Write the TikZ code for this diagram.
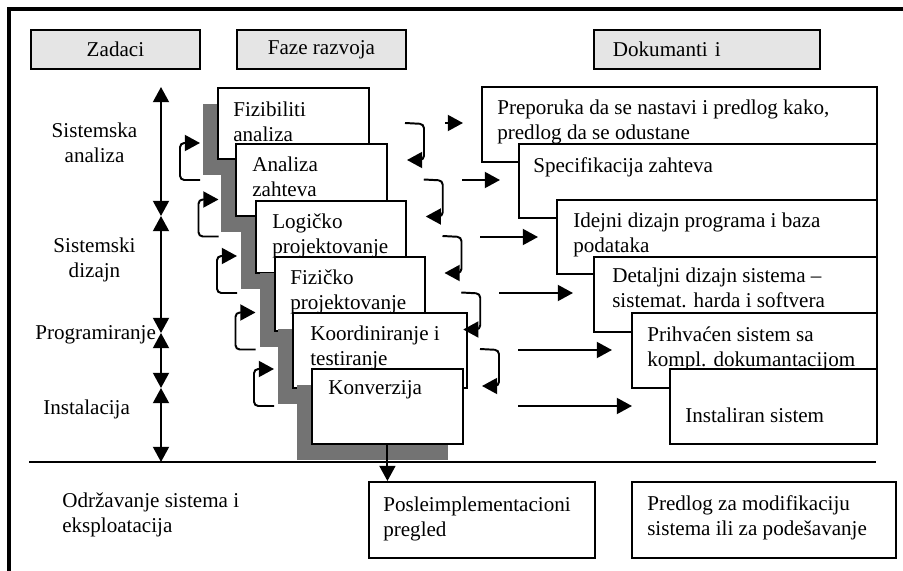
\documentclass[tikz,border=0pt]{standalone}
\usepackage{fontspec}
\setmainfont{Liberation Serif}
\usetikzlibrary{arrows.meta, positioning, shadows}
\tikzset{
  hd/.style = {draw=black, fill=black!10, line width=1.3pt, anchor=north west,
    inner sep=0pt, minimum width=4.225cm, minimum height=0.975cm},
  ph/.style = {draw=black, fill=white, line width=1.3pt, anchor=north west,
    inner sep=0pt, drop shadow={shadow xshift=-3.75mm, shadow yshift=-4mm,
      fill=black!55, opacity=1}},
  dk/.style = {draw=black, fill=white, line width=1.3pt, anchor=north west,
    inner sep=0pt},
  tx/.style = {inner sep=0pt, align=left},
  ar/.style = {-{Triangle[length=3.8mm, width=4mm]}, line width=1.4pt},
  dar/.style = {{Triangle[length=3.8mm, width=4mm]}-{Triangle[length=3.8mm, width=4mm]},
    line width=1.4pt},
  fb/.style = {ar, rounded corners=3pt}
}

\begin{document}
\begin{tikzpicture}[x=0.025cm, y=-0.025cm, font=\fontsize{15}{17.8}\selectfont]
  \useasboundingbox (0,0) rectangle (903,571);
  \draw [line width=2.2pt] (9,571) -- (9,9) -- (903,9);
  \node [hd] (zad) at (30,29) {Zadaci};
  \node [hd] (faz) at (236,29) {Faze razvoja};
  \node [hd, minimum width=5.65cm, text width=4.7cm, inner xsep=0.475cm, align=left] (dok) at (593,29) {Dokumanti i};

  \node [tx, align=center, anchor=north] (sa) at (94.5,123) {Sistemska\\analiza};
  \node [tx, align=center, anchor=north] (sd) at (94.5,238) {Sistemski\\dizajn};
  \node [tx, anchor=north west] (pr) at (35,325) {Programiranje};
  \node [tx, anchor=north west] (in) at (43,400) {Instalacija};
  \node [tx, anchor=north west] (od) at (62,493) {Održavanje sistema i\\eksploatacija};

  \coordinate (v0) at (161,87);
  \coordinate (v1) at (161,216);
  \coordinate (v2) at (161,333);
  \coordinate (v3) at (161,388);
  \coordinate (v4) at (161,462);
  \foreach \a/\b in {v0/v1, v1/v2, v2/v3, v3/v4} \draw [dar] (\a) -- (\b);

  \node [ph, minimum width=3.775cm, minimum height=1.775cm] (p1) at (217,87) {};
  \node [tx, below right=3.6mm and 4mm of p1.north west] (tp1) {Fizibiliti\\analiza};
  \node [ph, minimum width=3.775cm, minimum height=1.8cm] (p2) at (235,143) {};
  \node [tx, below right=3.5mm and 4.25mm of p2.north west] (tp2) {Analiza\\zahteva};
  \node [ph, minimum width=3.75cm, minimum height=1.8cm] (p3) at (255,200) {};
  \node [tx, below right=3.3mm and 4.25mm of p3.north west] (tp3) {Logičko\\projektovanje};
  \node [ph, minimum width=3.75cm, minimum height=1.85cm] (p4) at (274,256) {};
  \node [tx, below right=3.5mm and 4mm of p4.north west] (tp4) {Fizičko\\projektovanje};
  \node [ph, minimum width=4.35cm, minimum height=1.875cm] (p5) at (292,312) {};
  \node [tx, below right=3.3mm and 4.5mm of p5.north west] (tp5) {Koordiniranje i\\testiranje};
  \node [ph, minimum width=3.775cm, minimum height=1.875cm] (p6) at (311,368) {};
  \node [tx, below right=3mm and 4.25mm of p6.north west] (tp6) {Konverzija};

  \node [dk, minimum width=9.875cm, minimum height=1.875cm] (d1) at (481,86) {};
  \node [tx, below right=3.5mm and 4mm of d1.north west] (td1) {Preporuka da se nastavi i predlog kako,\\predlog da se odustane};
  \node [dk, minimum width=8.95cm, minimum height=1.85cm] (d2) at (518,143) {};
  \node [tx, below right=3.5mm and 3.75mm of d2.north west] (td2) {Specifikacija zahteva};
  \node [dk, minimum width=8cm, minimum height=1.85cm] (d3) at (556,199) {};
  \node [tx, below right=3.5mm and 4.25mm of d3.north west] (td3) {Idejni dizajn programa i baza\\podataka};
  \node [dk, minimum width=7.075cm, minimum height=1.875cm] (d4) at (593,256) {};
  \node [tx, below right=3mm and 4.75mm of d4.north west] (td4) {Detaljni dizajn sistema --\\sistemat. harda i softvera};
  \node [dk, minimum width=6.125cm, minimum height=1.875cm] (d5) at (631,312) {};
  \node [tx, below right=3.75mm and 4mm of d5.north west] (td5) {Prihvaćen sistem sa\\kompl. dokumantacijom};
  \node [dk, minimum width=5.175cm, minimum height=1.875cm] (d6) at (669,368) {};
  \node [tx, below right=10mm and 4mm of d6.north west] (td6) {Instaliran sistem};

  \foreach \i/\xa/\xb/\yy in {1/445/463/123, 2/462/500/180, 3/480/538/237,
      4/499/573/293, 5/518/612/350, 6/518/632/406} {
    \coordinate (fa\i) at (\xa,\yy);
    \coordinate (fb\i) at (\xb,\yy);
    \draw [ar] (fa\i) -- (fb\i);
  }
  \foreach \i [evaluate=\i as \bx using 405+18.75*\i,
      evaluate=\i as \by using 123+56.5*\i] in {0,...,4} {
    \coordinate (rb\i) at (\bx,\by);
    \draw [fb] (rb\i) -- ++(19,1) -- ++(0,36) -- ++(-17,0);
  }
  \foreach \i [evaluate=\i as \bx using 200+18.5*\i,
      evaluate=\i as \by using 180+56.5*\i] in {0,...,4} {
    \coordinate (lb\i) at (\bx,\by);
    \draw [fb] (lb\i) -- ++(-20,0) -- ++(0,-37) -- ++(20,0);
  }

  \draw [line width=1pt] (29,462) -- (876,462);

  \node [dk, minimum width=5.65cm, minimum height=1.9cm] (b1) at (368,481) {};
  \node [tx, below right=4mm and 3.75mm of b1.north west] (tb1) {Posleimplementacioni\\pregled};
  \node [dk, minimum width=6.6cm, minimum height=1.9cm] (b2) at (631,481) {};
  \node [tx, below right=3.5mm and 4mm of b2.north west] (tb2) {Predlog za modifikaciju\\sistema ili za podešavanje};
  \draw [ar] (p6.south) -- (p6.south |- b1.north);
\end{tikzpicture}
\end{document}
